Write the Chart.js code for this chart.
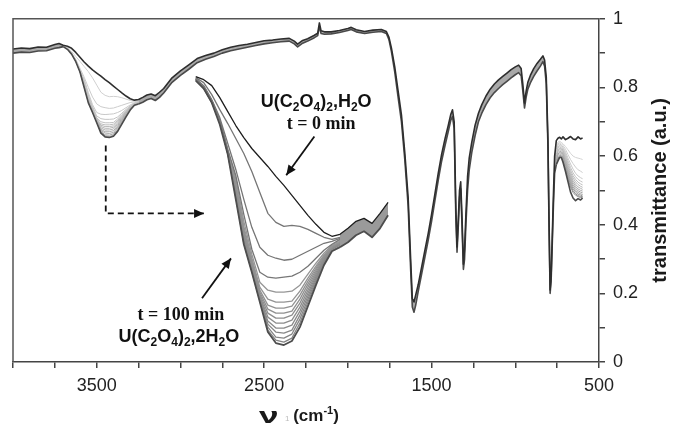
<!DOCTYPE html>
<html>
<head>
<meta charset="utf-8">
<script src="https://cdn.jsdelivr.net/npm/chart.js@4.4.0/dist/chart.umd.min.js"></script>
<style>
  html, body { margin: 0; padding: 0; background: #fff; }
  #wrap { position: relative; width: 674px; height: 430px; }
</style>
</head>
<body>
<div id="wrap"><canvas id="irChart"></canvas></div>
<script>
// Wavenumber grid (cm-1) of the first (t = 0) and last (t = 100 min) spectra
const wavenumbers = [
  4000, 3950, 3900, 3850, 3800, 3750, 3725,
  3700, 3675, 3650, 3625, 3600, 3575, 3550, 3525, 3500, 3475, 3450, 3425, 3400,
  3375, 3350, 3325, 3300, 3275, 3250, 3225, 3200, 3175, 3150, 3125, 3100,
  3050, 3000, 2950, 2900, 2850, 2800, 2750, 2700, 2650, 2600, 2550, 2500, 2450, 2400, 2350,
  2320, 2300, 2270, 2240, 2200, 2180, 2170, 2160, 2140, 2100, 2050, 2000, 1980, 1950, 1900, 1850, 1800,
  1770, 1755, 1740, 1720, 1700, 1680, 1660, 1640, 1625, 1615, 1605, 1595, 1580, 1560, 1540,
  1520, 1500, 1480, 1460, 1440, 1420, 1400, 1385, 1375, 1365, 1355, 1348, 1340, 1333, 1326,
  1318, 1310, 1303, 1295, 1285, 1275, 1260, 1240, 1220, 1200, 1175, 1150, 1125, 1100, 1075, 1050, 1025, 1000,
  980, 965, 955, 945, 935, 925, 910, 890, 870, 850, 835, 825, 815, 805, 798,
  792, 786, 780, 772, 765, 755, 745, 735, 725, 715, 700, 685, 670, 655, 640, 625, 610, 598
];
// U(C2O4)2,H2O  t = 0 min
const transT0 = [
  .912, .915, .913, .918, .917, .925, .928,
  .923, .920, .914, .902, .888, .874, .862, .851, .842, .833, .823, .814, .804,
  .794, .784, .775, .767, .763, .765, .771, .778, .781, .776, .786, .797,
  .828, .848, .866, .884, .893, .900, .910, .917, .922, .926, .931, .936, .938, .941, .943,
  .935, .926, .937, .942, .952, .958, .988, .965, .962, .962, .966, .972, .975, .968, .963, .967, .969,
  .963, .947, .915, .860, .790, .720, .610, .480, .300, .185, .175, .195, .225, .275, .325,
  .375, .430, .490, .550, .605, .650, .690, .722, .735, .700, .450, .335, .420, .500, .525,
  .420, .285, .330, .430, .540, .595, .640, .690, .725, .750, .775, .795, .810, .822, .832, .842, .852, .860,
  .865, .855, .810, .755, .790, .815, .835, .855, .870, .882, .892, .880, .830, .650, .400,
  .210, .250, .350, .490, .600, .645, .652, .655, .650, .656, .648, .652, .657, .650, .648, .656, .650, .653
];
// U(C2O4)2,2H2O  t = 100 min
const transT100 = [
  .900, .903, .902, .906, .907, .914, .916,
  .919, .911, .897, .875, .845, .800, .755, .727, .697, .667, .656, .654, .658,
  .672, .693, .714, .734, .748, .752, .757, .764, .768, .762, .771, .784,
  .815, .835, .853, .872, .882, .890, .900, .907, .912, .917, .922, .927, .930, .933, .935,
  .927, .918, .929, .935, .945, .951, .978, .957, .955, .956, .960, .966, .969, .962, .957, .961, .963,
  .957, .940, .905, .845, .772, .700, .590, .455, .270, .160, .145, .165, .205, .255, .305,
  .355, .410, .470, .530, .585, .630, .672, .705, .715, .680, .420, .320, .400, .480, .505,
  .395, .270, .300, .400, .500, .560, .610, .660, .700, .725, .750, .770, .785, .797, .808, .818, .828, .837,
  .843, .834, .790, .740, .772, .795, .813, .832, .848, .862, .875, .862, .810, .630, .380,
  .200, .235, .330, .460, .550, .575, .586, .596, .596, .582, .555, .525, .495, .478, .470, .476, .472, .478
];

// O-H stretching band: intermediate spectra, from early to late
const bandWavenumbers = [3700, 3675, 3650, 3625, 3600, 3575, 3550, 3525, 3500, 3475,
  3450, 3425, 3400, 3375, 3350, 3325, 3300, 3275, 3250];
const bandSeries = [
  [.922, .917, .905, .890, .876, .861, .846, .828, .807, .786, .777, .773, .774, .773, .770, .766, .762, .760, .762],
  [.921, .914, .900, .882, .856, .830, .800, .772, .752, .744, .741, .739, .740, .744, .748, .752, .756, .758, .761],
  [.921, .913, .899, .880, .850, .824, .785, .750, .727, .722, .721, .722, .723, .727, .733, .741, .749, .755, .760],
  [.921, .913, .899, .880, .849, .821, .778, .745, .717, .709, .707, .707, .708, .714, .725, .736, .746, .754, .759],
  [.920, .913, .899, .879, .849, .818, .773, .741, .712, .700, .697, .697, .698, .708, .721, .733, .744, .753, .758],
  [.920, .912, .898, .879, .848, .816, .770, .739, .709, .694, .691, .691, .693, .704, .718, .731, .743, .753, .757],
  [.920, .912, .898, .879, .848, .814, .767, .737, .707, .690, .686, .686, .688, .700, .715, .729, .742, .752, .757],
  [.920, .912, .898, .878, .847, .812, .765, .735, .705, .686, .681, .681, .684, .696, .712, .727, .741, .752, .756],
  [.920, .912, .898, .878, .847, .810, .763, .733, .703, .682, .676, .676, .679, .692, .709, .725, .740, .751, .756],
  [.920, .912, .898, .878, .847, .808, .761, .732, .702, .678, .671, .671, .674, .688, .706, .723, .739, .751, .755],
  [.920, .912, .898, .878, .846, .806, .759, .731, .701, .675, .667, .666, .669, .684, .703, .721, .738, .750, .755],
  [.920, .912, .898, .877, .846, .804, .758, .730, .700, .672, .662, .661, .665, .680, .700, .719, .737, .750, .754],
  [.920, .911, .897, .877, .846, .802, .756, .728, .698, .669, .659, .657, .661, .676, .697, .717, .736, .749, .753]
];

// 755-600 cm-1 region: the same intermediate spectra
const lowWavenumbers = [755, 745, 735, 725, 715, 700, 685, 670, 655, 640, 625, 610, 598];
const lowSeries = [
  [.630, .641, .643, .640, .636, .628, .618, .608, .600, .596, .594, .592, .590],
  [.625, .636, .639, .636, .631, .620, .604, .590, .578, .568, .560, .556, .552],
  [.620, .632, .635, .632, .626, .612, .594, .577, .562, .550, .542, .537, .534],
  [.615, .627, .631, .628, .621, .606, .586, .567, .551, .540, .532, .527, .524],
  [.610, .623, .627, .624, .617, .600, .579, .559, .543, .532, .524, .519, .516],
  [.605, .618, .623, .620, .613, .595, .573, .552, .536, .525, .517, .512, .509],
  [.600, .614, .619, .616, .609, .590, .567, .546, .529, .518, .510, .506, .503],
  [.596, .610, .615, .612, .605, .585, .561, .540, .523, .512, .504, .500, .498],
  [.592, .606, .611, .608, .601, .580, .555, .534, .517, .506, .499, .495, .493],
  [.588, .602, .607, .604, .597, .575, .549, .528, .511, .500, .494, .490, .488],
  [.584, .598, .603, .600, .593, .570, .543, .522, .505, .495, .489, .486, .484],
  [.580, .594, .600, .597, .589, .565, .538, .516, .499, .490, .485, .482, .482],
  [.576, .590, .598, .597, .585, .560, .532, .510, .494, .486, .482, .479, .480]
];

const xTickLabels = [3500, 2500, 1500, 500];
const yTickLabels = [0, 0.2, 0.4, 0.6, 0.8, 1];

// inset = magnified O-H band, drawn on two hidden scales
const insetWindow = { xMin: 2442, xMax: 4270, yMin: 0.637, yMax: 0.981 };
const insetFrom = 3100, insetTo = 3700;

const annotations = [
  { text: 'U(C_{2}O_{4})_{2},H_{2}O', x: 2189, y: 0.762, family: '"Liberation Sans", Arial, sans-serif' },
  { text: 't = 0 min', x: 2159, y: 0.698, family: '"Liberation Serif", "Times New Roman", serif' },
  { text: 't = 100 min', x: 2997, y: 0.142, family: '"Liberation Serif", "Times New Roman", serif' },
  { text: 'U(C_{2}O_{4})_{2},2H_{2}O', x: 3009, y: 0.078, family: '"Liberation Sans", Arial, sans-serif' }
];
const arrows = [
  { pts: [[2200, 0.657], [2368, 0.544]], dash: [] },
  { pts: [[2871, 0.186], [2698, 0.302]], dash: [] },
  { pts: [[3446, 0.631], [3446, 0.433], [2859, 0.433]], dash: [6, 4] }
];

const toPoints = (xs, ys) => xs.map((x, i) => ({ x: x, y: ys[i] }));
const grey = v => `rgb(${v},${v},${v})`;
const CLEAR = 'rgba(0,0,0,0)';

const bandLo = Math.min(...bandWavenumbers), bandHi = Math.max(...bandWavenumbers);
const lowHi = Math.max(...lowWavenumbers);

function mainFill(ctx) {
  const a = ctx.p0.parsed.x, b = ctx.p1.parsed.x;
  const lo = Math.min(a, b), hi = Math.max(a, b);
  if (lo >= bandLo && hi <= bandHi) return CLEAR;
  if (hi <= lowHi) return CLEAR;
  return '#a9a9a9';
}
function insetFill(ctx) {
  const a = ctx.p0.parsed.x, b = ctx.p1.parsed.x;
  return Math.max(a, b) <= bandLo ? '#9a9a9a' : CLEAR;
}

const datasets = [];
// main spectra
datasets.push({ data: toPoints(wavenumbers, transT0), borderColor: '#2e2e2e', borderWidth: 1.6, order: 0, fill: false });
datasets.push({ data: toPoints(wavenumbers, transT100), borderColor: '#4a4a4a', borderWidth: 1.6, order: 1,
  fill: '-1', backgroundColor: '#a9a9a9', segment: { backgroundColor: mainFill } });
// inset edges
const inInset = p => p.x >= insetFrom && p.x <= insetTo;
datasets.push({ data: toPoints(wavenumbers, transT0).filter(inInset), xAxisID: 'xi', yAxisID: 'yi',
  borderColor: '#1e1e1e', borderWidth: 1.3, order: 0, fill: false });
datasets.push({ data: toPoints(wavenumbers, transT100).filter(inInset), xAxisID: 'xi', yAxisID: 'yi',
  borderColor: '#4d4d4d', borderWidth: 1.8, order: 1, fill: '-1', backgroundColor: '#9a9a9a',
  segment: { backgroundColor: insetFill } });

bandSeries.forEach((vals, i) => {
  // main chart, light lines
  datasets.push({ data: toPoints(bandWavenumbers, vals), borderColor: grey(Math.round(208 - i * 4)),
    borderWidth: 1, order: 5, fill: false });
  // inset, stronger lines
  datasets.push({ data: toPoints(bandWavenumbers, vals), xAxisID: 'xi', yAxisID: 'yi',
    borderColor: grey(i < 3 ? 118 : 150 - (i - 3) * 2), borderWidth: 1.3, order: 2, fill: false });
});
lowSeries.forEach((vals, i) => {
  datasets.push({ data: toPoints(lowWavenumbers, vals), borderColor: grey(Math.round(212 - i * 6)),
    borderWidth: 1, order: 5, fill: false });
});

function drawRich(ctx, str, cx, cy, size, family) {
  const parts = [];
  str.replace(/([_^])\{([^}]*)\}|([^_^]+)/g, (m, mark, inner, plain) => {
    parts.push(mark ? { t: inner, mode: mark } : { t: plain, mode: '' });
    return m;
  });
  const small = Math.round(size * 0.66);
  let w = 0;
  parts.forEach(p => {
    ctx.font = `bold ${p.mode ? small : size}px ${family}`;
    p.w = ctx.measureText(p.t).width;
    w += p.w;
  });
  let x = cx - w / 2;
  ctx.textAlign = 'left';
  ctx.textBaseline = 'alphabetic';
  const base = cy + size * 0.36;
  parts.forEach(p => {
    ctx.font = `bold ${p.mode ? small : size}px ${family}`;
    const dy = p.mode === '_' ? size * 0.22 : p.mode === '^' ? -size * 0.4 : 0;
    ctx.fillText(p.t, x, base + dy);
    x += p.w;
  });
}

function drawArrow(ctx, pts, dash) {
  ctx.save();
  ctx.strokeStyle = '#111';
  ctx.fillStyle = '#111';
  ctx.lineWidth = 1.8;
  ctx.setLineDash(dash);
  ctx.beginPath();
  ctx.moveTo(pts[0][0], pts[0][1]);
  for (let i = 1; i < pts.length; i++) ctx.lineTo(pts[i][0], pts[i][1]);
  ctx.stroke();
  ctx.setLineDash([]);
  const [x1, y1] = pts[pts.length - 1], [x0, y0] = pts[pts.length - 2];
  const ang = Math.atan2(y1 - y0, x1 - x0);
  ctx.translate(x1, y1);
  ctx.rotate(ang);
  ctx.beginPath();
  ctx.moveTo(0, 0);
  ctx.lineTo(-10, -4.5);
  ctx.lineTo(-10, 4.5);
  ctx.closePath();
  ctx.fill();
  ctx.restore();
}

const decorations = {
  id: 'decorations',
  afterDraw(chart) {
    const { ctx, chartArea: a, scales } = chart;
    const px = v => scales.x.getPixelForValue(v);
    const py = v => scales.y.getPixelForValue(v);
    ctx.save();
    // frame top and left
    ctx.strokeStyle = '#555';
    ctx.lineWidth = 1.5;
    ctx.beginPath();
    ctx.moveTo(a.left, a.bottom);
    ctx.lineTo(a.left, a.top);
    ctx.lineTo(a.right, a.top);
    ctx.stroke();

    ctx.fillStyle = '#111';
    annotations.forEach(t => drawRich(ctx, t.text, px(t.x), py(t.y), 18, t.family));
    arrows.forEach(ar => drawArrow(ctx, ar.pts.map(p => [px(p[0]), py(p[1])]), ar.dash));

    // axis titles
    ctx.fillStyle = '#1a1a1a';
    ctx.textAlign = 'left';
    ctx.textBaseline = 'alphabetic';
    ctx.save();
    ctx.translate(259, 423);
    ctx.scale(1.6, 1);
    ctx.font = 'bold 22px "Liberation Sans", Arial, sans-serif';
    ctx.fillText('\u03bd', 0, 0);
    ctx.restore();
    ctx.fillStyle = '#bbb';
    ctx.font = '8px "Liberation Sans", Arial';
    ctx.fillText('1', 285, 421);
    ctx.fillStyle = '#1a1a1a';
    drawRich(ctx, '(cm^{-1})', 316, 415, 17, '"Liberation Sans", Arial, sans-serif');

    ctx.save();
    ctx.translate(660, (a.top + a.bottom) / 2);
    ctx.rotate(-Math.PI / 2);
    ctx.textAlign = 'center';
    ctx.textBaseline = 'middle';
    ctx.font = 'bold 20px "Liberation Sans", Arial, sans-serif';
    ctx.fillText('transmittance (a.u.)', 0, 0);
    ctx.restore();
    ctx.restore();
  }
};

const tickFont = { family: '"Liberation Sans", Arial, sans-serif', size: 18 };

new Chart(document.getElementById('irChart'), {
  type: 'line',
  data: { datasets: datasets },
  options: {
    responsive: true,
    maintainAspectRatio: false,
    animation: false,
    devicePixelRatio: 1,
    layout: { padding: { left: 13, top: 18, right: 0, bottom: 0 } },
    plugins: { legend: { display: false }, tooltip: { enabled: false } },
    elements: { point: { radius: 0 }, line: { tension: 0, borderJoinStyle: 'round' } },
    scales: {
      x: {
        type: 'linear', reverse: true, min: 500, max: 4000,
        ticks: {
          stepSize: 250, autoSkip: false, maxRotation: 0, color: '#222', font: tickFont, padding: 7,
          callback: v => (xTickLabels.includes(v) ? String(v) : '')
        },
        grid: { drawOnChartArea: false, tickLength: 6, color: '#444', lineWidth: 1.5 },
        border: { color: '#444', width: 1.5 },
        afterFit: s => { s.height = 68; }
      },
      y: {
        type: 'linear', position: 'right', min: 0, max: 1,
        ticks: {
          stepSize: 0.1, autoSkip: false, color: '#222', font: tickFont, padding: 8,
          callback: v => {
            const r = Math.round(v * 10) / 10;
            return yTickLabels.some(t => Math.abs(t - r) < 1e-6) ? String(r) : '';
          }
        },
        grid: { drawOnChartArea: false, tickLength: 6, color: '#444', lineWidth: 1.5 },
        border: { color: '#444', width: 1.5 },
        afterFit: s => { s.width = 75; }
      },
      xi: { type: 'linear', display: false, reverse: true, min: insetWindow.xMin, max: insetWindow.xMax },
      yi: { type: 'linear', display: false, min: insetWindow.yMin, max: insetWindow.yMax }
    }
  },
  plugins: [decorations]
});
</script>
</body>
</html>
